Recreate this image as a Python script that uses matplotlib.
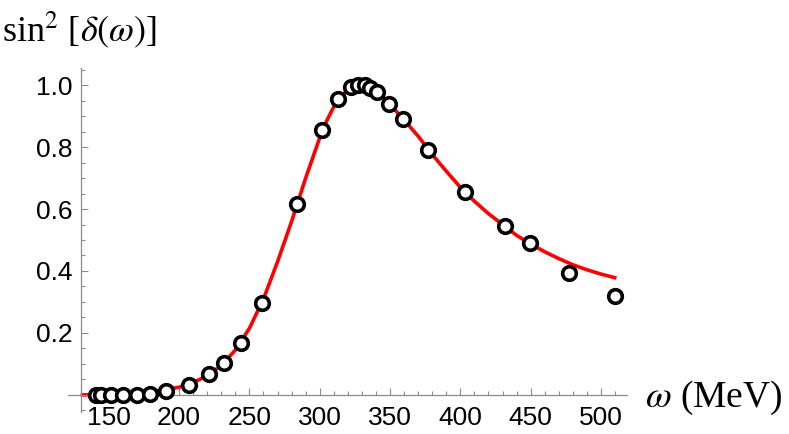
import numpy as np
import matplotlib
matplotlib.use("Agg")
import matplotlib.pyplot as plt
from matplotlib.ticker import MultipleLocator, FixedLocator

# data points (omega in MeV, sin^2 delta)
omega = [140.8, 144.8, 151.4, 160.2, 170.1, 179.2, 191.0, 206.9, 221.1, 231.8,
         243.9, 258.6, 283.9, 301.7, 313.1, 322.1, 326.9, 332.1, 335.6, 340.4,
         349.4, 359.3, 377.1, 403.2, 431.6, 449.4, 477.4, 509.9]
sin2 = [0.0, 0.0, 0.0, 0.0, 0.0, 0.002, 0.013, 0.032, 0.067, 0.102,
        0.169, 0.296, 0.616, 0.855, 0.954, 0.995, 1.0, 0.999, 0.989, 0.976,
        0.938, 0.891, 0.790, 0.654, 0.545, 0.489, 0.395, 0.319]

# fitted curve
curve_w = [130, 140, 150, 160, 170, 180, 190, 200, 210, 220, 230, 240, 250, 260,
           270, 280, 290, 300, 305, 310, 315, 320, 325, 330, 335, 340, 345, 350,
           360, 370, 380, 390, 400, 410, 420, 430, 440, 450, 460, 470, 480, 490,
           500, 511]
curve_s = [0.0, 0.001, 0.002, 0.004, 0.007, 0.011, 0.017, 0.025, 0.040, 0.062,
           0.095, 0.145, 0.215, 0.310, 0.430, 0.560, 0.700, 0.830, 0.885, 0.930,
           0.962, 0.985, 0.997, 1.0, 0.995, 0.982, 0.962, 0.938, 0.887, 0.835,
           0.776, 0.722, 0.670, 0.625, 0.585, 0.550, 0.515, 0.487, 0.462, 0.440,
           0.420, 0.404, 0.390, 0.377]

plt.rcParams['font.family'] = ['Liberation Sans', 'DejaVu Sans']
plt.rcParams['mathtext.fontset'] = 'stix'

fig = plt.figure(figsize=(7.89, 4.34), dpi=100)
ax = fig.add_axes([0.0862, 0.0507, 0.7085, 0.7926])

ax.plot(curve_w, curve_s, color='red', lw=2.6, zorder=2, solid_capstyle='butt')
ax.plot(omega, sin2, 'o', ms=9.8, mfc='white', mec='black', mew=2.6, zorder=3)

ax.set_xlim(121, 518.5)
ax.set_ylim(-0.055, 1.055)

for s in ['top', 'right']:
    ax.spines[s].set_visible(False)
ax.spines['left'].set_position(('data', 130))
ax.spines['bottom'].set_position(('data', 0))
for s in ['left', 'bottom']:
    ax.spines[s].set_color('#8a8a8a')
    ax.spines[s].set_linewidth(0.9)

ax.xaxis.set_major_locator(FixedLocator([150, 200, 250, 300, 350, 400, 450, 500]))
ax.xaxis.set_minor_locator(MultipleLocator(10))
ax.yaxis.set_major_locator(FixedLocator([0.2, 0.4, 0.6, 0.8, 1.0]))
ax.yaxis.set_minor_locator(MultipleLocator(0.05))
ax.tick_params(which='both', direction='in', color='#8a8a8a', width=0.8, labelsize=19)
ax.tick_params(which='major', length=5)
ax.tick_params(which='minor', length=3)
ax.tick_params(axis='y', pad=6)
ax.tick_params(axis='x', pad=8)

serif = ['Liberation Serif', 'DejaVu Serif']
fig.text(0.003, 1 - 30 / 434, r'sin$^2$ [$\delta(\omega)$]', family=serif,
         fontsize=26, va='center', ha='left')
fig.text(645 / 789, 1 - 398 / 434, r'$\omega$ (MeV)', family=serif,
         fontsize=27, va='center', ha='left')

fig.savefig('out.png', dpi=100)
